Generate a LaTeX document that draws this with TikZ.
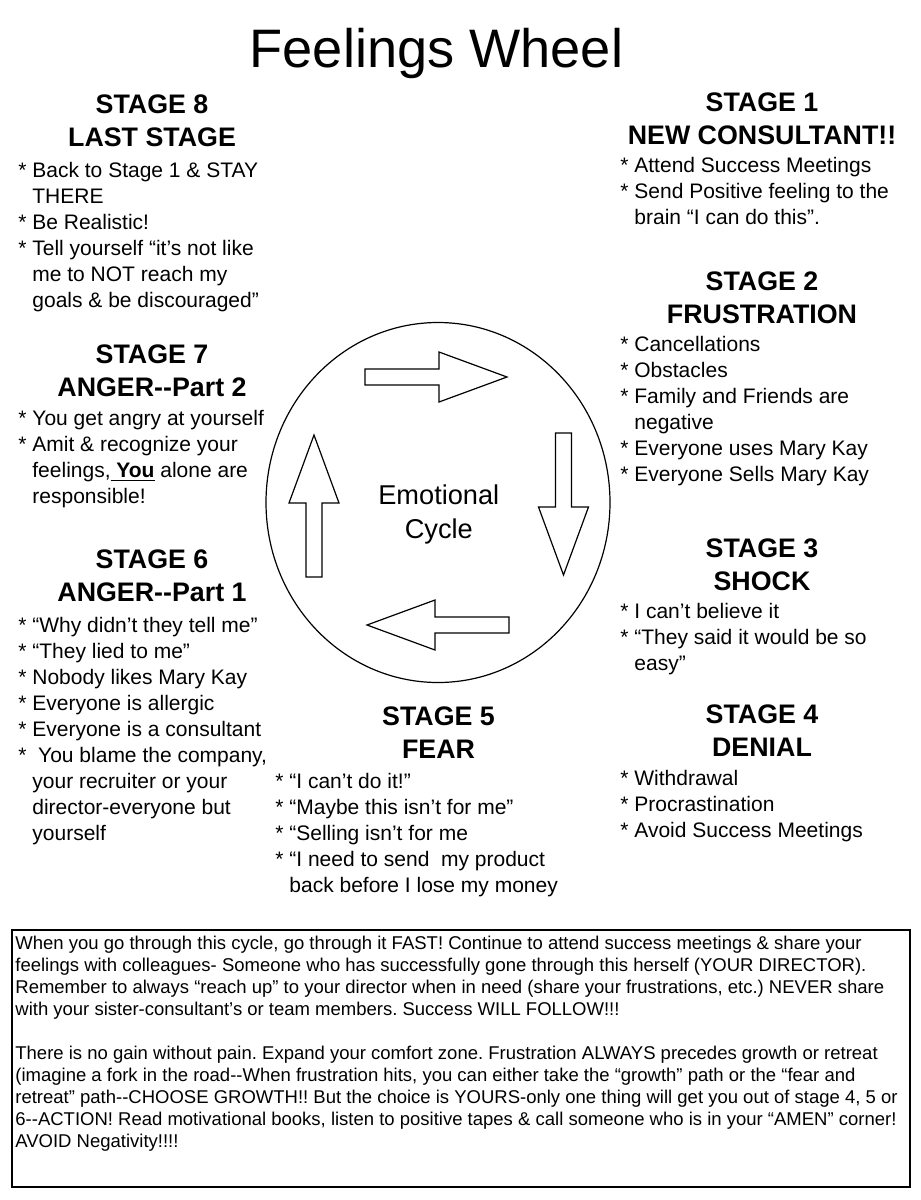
\documentclass[tikz,border=0pt]{standalone}
\usepackage{fontspec}
\setmainfont{Liberation Sans}
\usepackage{tikz}
\usetikzlibrary{positioning}
\frenchspacing
\newcommand{\headfont}{\bfseries\fontsize{13.4}{16.8}\selectfont}
\newcommand{\itemfont}{\fontsize{10.5}{13}\selectfont}
\newcommand{\notefont}{\fontsize{9.25}{11}\selectfont}
\newcommand{\dbl}{-\kern0pt-}
\newcommand{\bul}{{*}}
\newcommand{\stagehead}[2]{\begin{tabular}[t]{@{}c@{}}#1\\#2\end{tabular}}
\newcommand{\itemlist}[1]{\begin{tabular}[t]{@{}l@{\ }l@{}}#1\end{tabular}}

\begin{document}
\begin{tikzpicture}[x=0.5pt, y=-0.5pt,
  head/.style={font=\headfont, inner sep=0pt, anchor=base},
  items/.style={font=\itemfont, inner sep=0pt, anchor=base west},
  thinline/.style={draw=black, line width=0.6pt},
  cyclearrow/.pic={\draw[thinline, fill=white] (0,-8) -- (74,-8) -- (74,-25) -- (142,0) -- (74,25) -- (74,8) -- (0,8) -- cycle;}
]
\path[fill=white, use as bounding box] (0,0) rectangle (921,1200);
% title
\node[inner sep=0pt, anchor=base, font=\fontsize{27.1}{32}\selectfont] (title) at (436.5,67) {Feelings Wheel};
% the wheel
\node[inner sep=0pt, anchor=base, align=center, font=\fontsize{13.6}{17}\selectfont] (cycle) at (438.8,504.3) {\begin{tabular}[t]{@{}c@{}}Emotional\\Cycle\end{tabular}};
\draw[thinline] (438,502.5) ellipse [x radius=86pt, y radius=90pt];
\pic at (365,377) {cyclearrow};
\pic[rotate=-90] at (563.5,433) {cyclearrow};
\pic[rotate=180] at (509,625) {cyclearrow};
\pic[rotate=90] at (314,577) {cyclearrow};
% right column
\node[head] (h1) at (762,111) {\stagehead{STAGE 1}{NEW CONSULTANT!!}};
\node[items] (l1) at (620,172) {\itemlist{
  \bul & Attend Success Meetings\\
  \bul & Send Positive feeling to the\\
       & brain “I can do this”.}};
\node[head] (h2) at (762,290) {\stagehead{STAGE 2}{FRUSTRATION}};
\node[items] (l2) at (620,351) {\itemlist{
  \bul & Cancellations\\
  \bul & Obstacles\\
  \bul & Family and Friends are\\
       & negative\\
  \bul & Everyone uses Mary Kay\\
  \bul & Everyone Sells Mary Kay}};
\node[head] (h3) at (762,557) {\stagehead{STAGE 3}{SHOCK}};
\node[items] (l3) at (620,618) {\itemlist{
  \bul & I can’t believe it\\
  \bul & “They said it would be so\\
       & easy”}};
\node[head] (h4) at (762,723) {\stagehead{STAGE 4}{DENIAL}};
\node[items] (l4) at (620,785) {\itemlist{
  \bul & Withdrawal\\
  \bul & Procrastination\\
  \bul & Avoid Success Meetings}};
% middle
\node[head] (h5) at (438.5,725) {\stagehead{STAGE 5}{FEAR}};
\node[items] (l5) at (275,788) {\itemlist{
  \bul & “I can’t do it!”\\
  \bul & “Maybe this isn’t for me”\\
  \bul & “Selling isn’t for me\\
  \bul & “I need to send\ \ my product\\
       & back before I lose my money}};
% left column
\node[head] (h6) at (152,568) {\stagehead{STAGE 6}{ANGER\dbl Part 1}};
\node[items] (l6) at (18,632) {\itemlist{
  \bul & “Why didn’t they tell me”\\
  \bul & “They lied to me”\\
  \bul & Nobody likes Mary Kay\\
  \bul & Everyone is allergic\\
  \bul & Everyone is a consultant\\
  \bul & \ You blame the company,\\
       & your recruiter or your\\
       & director-everyone but\\
       & yourself}};
\node[head] (h7) at (152,363) {\stagehead{STAGE 7}{ANGER\dbl Part 2}};
\node[items] (l7) at (18,425) {\itemlist{
  \bul & You get angry at yourself\\
  \bul & Amit \& recognize your\\
       & feelings,\underline{\ \textbf{You}} alone are\\
       & responsible!}};
\node[head] (h8) at (152,113) {\stagehead{STAGE 8}{LAST STAGE}};
\node[items] (l8) at (18,177) {\itemlist{
  \bul & Back to Stage 1 \& STAY\\
       & THERE\\
  \bul & Be Realistic!\\
  \bul & Tell yourself “it’s not like\\
       & me to NOT reach my\\
       & goals \& be discouraged”}};
% note box
\draw[draw=black, line width=0.9pt] (12,930) rectangle (910,1187);
\node[inner sep=0pt, anchor=base west, font=\notefont] (note) at (15,949) {\begin{tabular}[t]{@{}l@{}}
When you go through this cycle, go through it FAST! Continue to attend success meetings \& share your\\
feelings with colleagues- Someone who has successfully gone through this herself (YOUR DIRECTOR).\\
Remember to always “reach up” to your director when in need (share your frustrations, etc.) NEVER share\\
with your sister-consultant’s or team members. Success WILL FOLLOW!!!\\
\\
There is no gain without pain. Expand your comfort zone. Frustration ALWAYS precedes growth or retreat\\
(imagine a fork in the road\dbl When frustration hits, you can either take the “growth” path or the “fear and\\
retreat” path\dbl CHOOSE GROWTH!! But the choice is YOURS-only one thing will get you out of stage 4, 5 or\\
6\dbl ACTION! Read motivational books, listen to positive tapes \& call someone who is in your “AMEN” corner!\\
AVOID Negativity!!!!
\end{tabular}};
\end{tikzpicture}
\end{document}
